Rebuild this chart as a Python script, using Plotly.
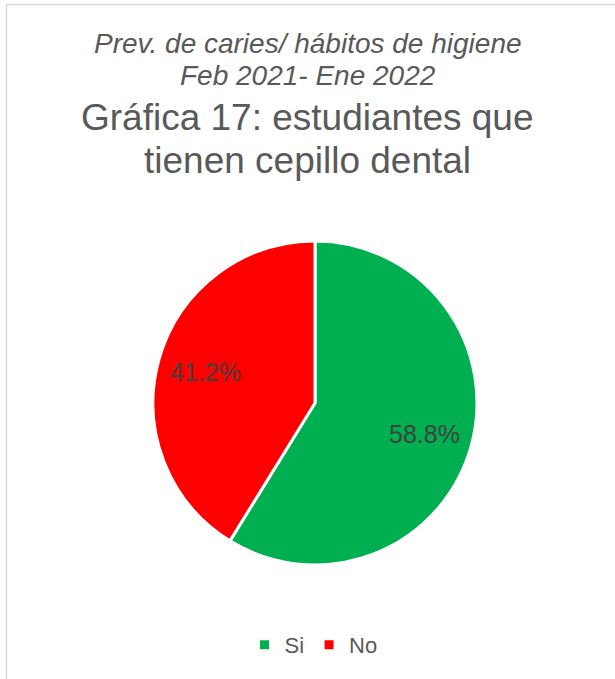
import math
import plotly.graph_objects as go

# Data
labels = ["Si", "No"]
values = [58.8, 41.2]
colors = ["#00B050", "#FF0000"]

W, H = 615, 679

# pie geometry in pixels
CX, CY, R = 315, 403, 162
LABEL_R = 0.70  # data labels sit along each slice's bisector

fig = go.Figure()

fig.add_trace(go.Pie(
    labels=labels,
    values=values,
    sort=False,
    direction="clockwise",
    rotation=0,
    marker=dict(colors=colors, line=dict(color="white", width=3)),
    textinfo="none",
    domain=dict(x=[(CX - R) / W, (CX + R) / W], y=[1 - (CY + R) / H, 1 - (CY - R) / H]),
    hoverinfo="label+percent",
))

# percentage labels placed along each slice's mid-angle
total = sum(values)
cum = 0.0
for lab, v in zip(labels, values):
    mid = (cum + v / 2) / total * 2 * math.pi
    cum += v
    px = CX + LABEL_R * R * math.sin(mid)
    py = CY - LABEL_R * R * math.cos(mid)
    fig.add_annotation(
        text=f"{v / total * 100:.1f}%",
        x=px / W, y=1 - py / H, xref="paper", yref="paper",
        xanchor="center", yanchor="middle", showarrow=False,
        font=dict(family="Liberation Sans, Arial", size=25, color="#404040"),
    )

title_font = "Liberation Sans, Arial"
fig.add_annotation(
    text="<i>Prev. de caries/ hábitos de higiene</i>",
    x=0.5, y=1 - 44 / H, xref="paper", yref="paper",
    xanchor="center", yanchor="middle", showarrow=False,
    font=dict(family=title_font, size=28, color="#595959"),
)
fig.add_annotation(
    text="<i>Feb 2021- Ene 2022</i>",
    x=0.5, y=1 - 75 / H, xref="paper", yref="paper",
    xanchor="center", yanchor="middle", showarrow=False,
    font=dict(family=title_font, size=28, color="#595959"),
)
fig.add_annotation(
    text="Gráfica 17: estudiantes que",
    x=0.5, y=1 - 117 / H, xref="paper", yref="paper",
    xanchor="center", yanchor="middle", showarrow=False,
    font=dict(family=title_font, size=37, color="#595959"),
)
fig.add_annotation(
    text="tienen cepillo dental",
    x=0.5, y=1 - 160 / H, xref="paper", yref="paper",
    xanchor="center", yanchor="middle", showarrow=False,
    font=dict(family=title_font, size=37, color="#595959"),
)

# chart-area frame
fig.add_shape(
    type="rect", xref="paper", yref="paper",
    x0=6.5 / W, x1=1.05, y0=-0.05, y1=1 - 4.5 / H,
    line=dict(color="#D9D9D9", width=1.5), fillcolor="rgba(0,0,0,0)",
    layer="below",
)

fig.update_layout(
    width=W, height=H,
    margin=dict(l=0, r=0, t=0, b=0),
    paper_bgcolor="white",
    plot_bgcolor="white",
    showlegend=True,
    legend=dict(
        orientation="h", x=0.5 + 6 / W, xanchor="center", y=1 - 645 / H, yanchor="middle",
        font=dict(family=title_font, size=22, color="#595959"),
        itemwidth=30, tracegroupgap=0,
    ),
)

fig.write_html("out.html")
